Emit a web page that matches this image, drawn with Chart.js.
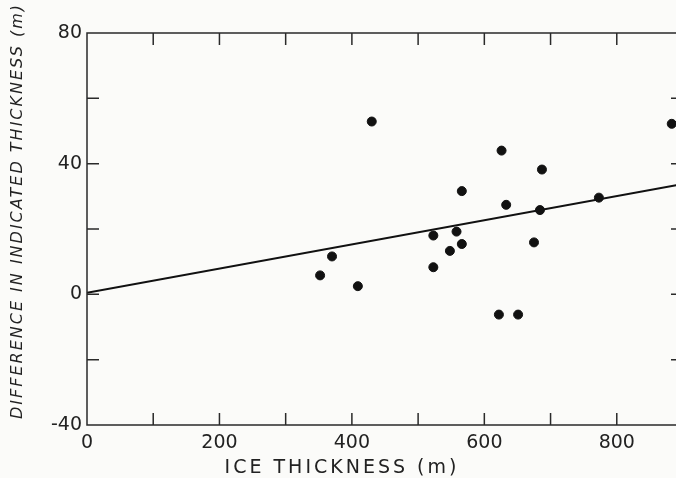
<!DOCTYPE html>
<html>
<head>
<meta charset="utf-8">
<script src="https://cdn.jsdelivr.net/npm/chart.js@4.4.0/dist/chart.umd.min.js"></script>
<style>
html, body { margin: 0; padding: 0; overflow: hidden; background: #fbfbf9; }
#wrap { width: 720px; height: 478px; }
</style>
</head>
<body>
<div id="wrap"><canvas id="myChart" width="720" height="478"></canvas></div>
<script>
// data
var iceThickness = [352, 370, 409, 430, 523, 523, 548, 558, 566, 566, 626, 633, 622, 651, 675, 684, 687, 773, 883];
var thicknessDiff = [5.8, 11.6, 2.5, 52.9, 18.0, 8.3, 13.3, 19.2, 15.4, 31.6, 44.0, 27.4, -6.2, -6.2, 15.9, 25.8, 38.2, 29.6, 52.2];
var fitX = [0, 900];
var fitY = [0.5, 33.8];
var xTickLabels = ['0', '200', '400', '600', '800'];
var yTickLabels = ['-40', '0', '40', '80'];

var ink = '#222';

var points = [];
iceThickness.forEach(function (v, i) {
	points.push({ x: v, y: thicknessDiff[i] });
});
var fit = [];
fitX.forEach(function (v, i) {
	fit.push({ x: v, y: fitY[i] });
});

// frame with inward ticks + axis titles
var frameTicks = {
	id: 'frameTicks',
	afterDatasetsDraw: function (chart) {
		var ctx = chart.ctx;
		var xs = chart.scales.x;
		var ys = chart.scales.y;
		var l = xs.getPixelForValue(0), r = xs.getPixelForValue(900);
		var t = ys.getPixelForValue(80), b = ys.getPixelForValue(-40);
		var len = 12;
		ctx.save();
		ctx.strokeStyle = '#2a2a2a';
		ctx.lineWidth = 1.5;
		ctx.beginPath();
		ctx.rect(l, t, r - l, b - t);
		for (var v = 100; v < 900; v += 100) {
			var px = xs.getPixelForValue(v);
			ctx.moveTo(px, b); ctx.lineTo(px, b - len);
			ctx.moveTo(px, t); ctx.lineTo(px, t + len);
		}
		for (var w = -20; w < 80; w += 20) {
			var py = ys.getPixelForValue(w);
			ctx.moveTo(l, py); ctx.lineTo(l + len, py);
			ctx.moveTo(r, py); ctx.lineTo(r - len, py);
		}
		ctx.stroke();

		ctx.fillStyle = ink;
		ctx.textAlign = 'center';
		ctx.textBaseline = 'middle';
		ctx.font = '19px "DejaVu Sans"';
		ctx.letterSpacing = '3px';
		ctx.fillText('ICE THICKNESS (m)', 342, 468);

		ctx.translate(18, 211);
		ctx.rotate(-Math.PI / 2);
		ctx.font = 'italic 16px "DejaVu Sans"';
		ctx.letterSpacing = '2px';
		ctx.fillText('DIFFERENCE IN INDICATED THICKNESS (m)', 0, 0);
		ctx.restore();
	}
};

var ctx = document.getElementById('myChart');
var myChart = new Chart(ctx, {
	type: 'scatter',
	data: {
		datasets: [
			{
				label: 'measurements',
				data: points,
				backgroundColor: '#111',
				borderColor: '#111',
				pointRadius: 4.5,
				pointHoverRadius: 4.5,
			},
			{
				type: 'line',
				label: 'fit',
				data: fit,
				borderColor: '#111',
				borderWidth: 2,
				pointRadius: 0,
				fill: false,
			},
		],
	},
	options: {
		responsive: false,
		animation: false,
		layout: { padding: { top: 33, right: 37, left: 0, bottom: 0 } },
		plugins: {
			legend: { display: false },
			tooltip: { enabled: false },
		},
		scales: {
			x: {
				type: 'linear',
				min: 0,
				max: 900,
				afterFit: function (scale) { scale.height = 53; },
				grid: { display: false, drawTicks: false },
				border: { display: false },
				ticks: {
					stepSize: 100,
					autoSkip: false,
					maxRotation: 0,
					padding: 7,
					color: ink,
					font: { family: 'DejaVu Sans', size: 19 },
					callback: function (value) {
						return xTickLabels.indexOf(String(value)) >= 0 ? String(value) : '';
					},
				},
			},
			y: {
				type: 'linear',
				min: -40,
				max: 80,
				afterFit: function (scale) { scale.width = 87; },
				grid: { display: false, drawTicks: false },
				border: { display: false },
				ticks: {
					stepSize: 20,
					autoSkip: false,
					padding: 5,
					color: ink,
					font: { family: 'DejaVu Sans', size: 19 },
					callback: function (value) {
						return yTickLabels.indexOf(String(value)) >= 0 ? String(value) : '';
					},
				},
			},
		},
	},
	plugins: [frameTicks],
});
</script>
</body>
</html>
